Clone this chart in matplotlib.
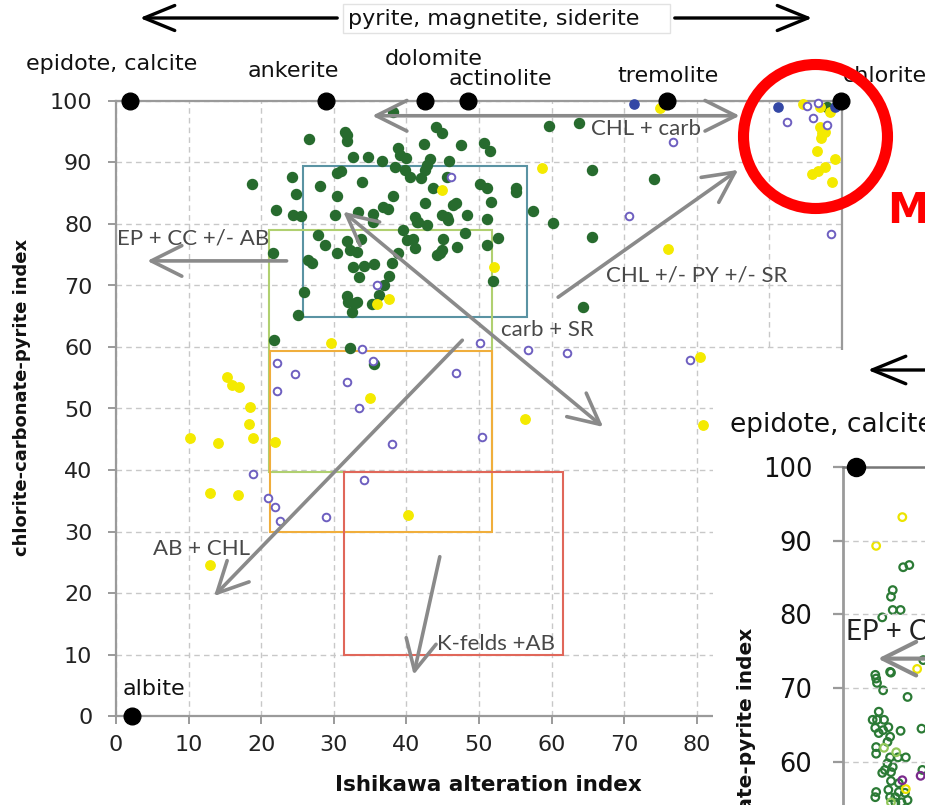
import matplotlib.pyplot as plt
from matplotlib.patches import Rectangle, Ellipse, FancyArrowPatch

W, H = 925, 805

# ---- data ----
green_x = [38.2, 26.6, 31.5, 31.8, 31.8, 32.6, 34.7, 36.6, 38.8, 39.1, 39.9, 38.4, 39.8, 18.7, 24.2, 28.1,
           30.4, 31.0, 33.9, 24.8, 30.4, 38.2, 22.0, 24.4, 25.5, 30.2, 33.3, 35.4, 35.4, 36.8, 37.5,
           44.1, 44.9, 59.6, 42.4, 47.5, 50.7, 51.5, 43.3, 42.8, 42.6, 45.9, 40.5, 42.0, 45.6, 43.7,
           50.1, 51.1, 55.1, 55.1, 42.6, 46.4, 46.8, 51.7, 41.2, 41.6, 44.9, 45.6, 48.3, 51.1, 57.4, 60.2,
           21.6, 27.8, 28.8, 30.4, 31.8, 32.2, 33.2, 33.7, 39.5, 40.1, 38.8, 26.4, 27.0, 32.6, 34.2, 35.5,
           33.5, 38.0, 37.6, 36.9, 25.9, 31.8, 32.0, 32.9, 33.2, 32.5, 36.2, 35.3, 25.1, 21.8, 32.2,
           40.9, 41.2, 41.5, 42.8, 45.7, 48.1, 45.0, 44.9, 47.0, 44.2, 44.6, 51.1, 52.6, 51.9,
           64.3, 63.8, 65.6, 74.1, 65.6, 35.5, 97.9]
green_y = [98.2, 93.8, 95.0, 94.5, 93.5, 90.9, 90.9, 90.2, 92.4, 91.2, 90.7, 89.3, 88.8, 86.5, 87.6, 86.2,
           88.3, 88.6, 86.8, 84.9, 84.6, 84.6, 82.3, 81.5, 81.3, 81.5, 82.0, 81.6, 80.3, 82.8, 82.4,
           95.8, 94.8, 95.9, 93.0, 92.8, 93.2, 91.9, 90.6, 89.6, 88.8, 90.2, 87.6, 87.5, 87.6, 85.9,
           86.5, 85.9, 85.9, 85.2, 83.4, 83.1, 83.4, 83.6, 81.1, 80.3, 81.5, 81.1, 81.5, 80.8, 82.1, 80.2,
           75.3, 78.2, 76.6, 75.3, 77.2, 75.8, 75.4, 77.6, 79.0, 77.4, 75.3, 74.1, 73.7, 73.0, 73.2, 73.5,
           71.4, 73.7, 71.5, 70.1, 69.0, 68.3, 67.3, 67.2, 67.3, 65.7, 68.5, 67.0, 65.2, 61.1, 59.8,
           77.6, 76.1, 80.3, 79.8, 80.6, 78.5, 77.6, 75.8, 76.3, 75.0, 75.3, 76.6, 77.7, 70.7,
           66.5, 96.4, 88.8, 87.3, 77.9, 57.2, 99.0]

yellow_x = [44.9, 58.7, 36.0, 37.6, 29.6, 52.1, 56.3, 80.9, 80.4, 15.3, 16.0, 17.0, 18.5, 18.3, 18.9,
            10.2, 14.1, 21.9, 35.0, 12.9, 16.8, 40.2, 12.9, 76.0, 74.9, 94.6, 97.0, 98.3, 97.0, 97.2,
            97.7, 97.1, 96.6, 99.0, 97.7, 96.7, 95.9, 98.6]
yellow_y = [85.5, 89.1, 67.0, 67.8, 60.7, 73.0, 48.3, 47.3, 58.4, 55.1, 53.8, 53.5, 50.2, 47.5, 45.2,
            45.2, 44.4, 44.6, 51.7, 36.3, 35.9, 32.7, 24.6, 75.9, 98.9, 99.5, 99.0, 98.2, 95.8, 94.8,
            95.0, 94.0, 91.9, 90.6, 89.3, 88.6, 88.1, 86.8]

purple_x = [46.1, 36.0, 33.9, 50.1, 56.7, 62.1, 79.1, 50.4, 22.2, 24.7, 35.4, 31.8, 22.2, 33.5, 46.8,
            38.0, 18.9, 20.9, 21.9, 22.6, 28.9, 34.2, 76.7, 70.7, 92.4, 96.0, 97.9, 96.7, 95.2, 98.5]
purple_y = [87.6, 70.1, 59.7, 60.7, 59.5, 59.0, 57.9, 45.4, 57.4, 55.6, 57.7, 54.3, 52.8, 50.1, 55.8,
            44.2, 39.3, 35.4, 34.0, 31.7, 32.3, 38.4, 93.3, 81.3, 96.6, 97.2, 96.1, 99.7, 99.2, 78.4]

blue_x = [71.3, 91.2, 99.0]
blue_y = [99.5, 99.0, 99.0]

minerals = ["epidote, calcite", "ankerite", "dolomite", "actinolite", "tremolite", "chlorite", "albite"]
mineral_x = [1.9, 28.9, 42.6, 48.5, 75.9, 99.9, 2.2]
mineral_y = [100, 100, 100, 100, 100, 100, 0]

# boxes: (x0, x1, y0, y1, colour)
boxes = [(25.8, 56.6, 64.8, 89.4, "#5a93a3"),
         (21.1, 51.8, 39.7, 79.0, "#b0d070"),
         (21.2, 51.8, 29.9, 59.3, "#f0ae3c"),
         (31.4, 61.6, 9.9, 39.6, "#e0675a")]

# inset (second chart, partly visible)
in_green_x = [6.9, 7.6, 5.7, 5.5, 5.7, 6.6, 4.5, 9.2, 3.7, 3.9, 3.8, 5.4, 5.5, 4.6, 7.4, 4.1, 3.4, 3.9,
              4.7, 5.2, 3.7, 4.1, 4.6, 5.4, 5.1, 3.8, 3.8, 6.6, 6.3, 7.2, 5.4, 5.1, 4.8, 4.5, 5.7, 5.5,
              9.1, 3.8, 3.7, 5.2, 5.4, 6.0, 6.4, 7.1, 6.0, 6.7, 7.4, 5.5, 6.4, 9.0]
in_green_y = [86.4, 86.7, 83.3, 82.4, 80.6, 80.6, 79.6, 73.8, 71.8, 70.7, 71.3, 72.2, 72.1, 69.7, 68.8,
              66.8, 65.7, 65.7, 65.7, 64.7, 64.6, 63.9, 64.3, 63.4, 62.7, 62.0, 61.1, 64.2, 60.6, 60.6,
              60.6, 59.8, 58.9, 58.5, 59.3, 58.6, 58.9, 55.9, 55.2, 56.2, 55.2, 55.2, 55.9, 55.8, 54.5,
              54.5, 54.8, 57.4, 57.1, 64.5]
in_lgreen_x = [4.7, 6.1, 5.5]
in_lgreen_y = [61.9, 61.3, 54.5]
in_yellow_x = [6.8, 3.8, 8.5, 7.2]
in_yellow_y = [93.2, 89.3, 72.6, 56.3]
in_purple_x = [6.8, 8.9]
in_purple_y = [57.5, 58.1]


def fx(px):
    return px / W


def fy(py):
    return 1 - py / H


plt.rcParams['font.family'] = 'DejaVu Sans'
fig = plt.figure(figsize=(W / 100, H / 100), dpi=100)

GRID = dict(color="#c8c8c8", linestyle=(0, (4, 3)), linewidth=1)
ARROW = "#8a8a8a"
ANNOT_FONT = "Lato"
ANNOT_COL = "#484848"

# ---- main chart ----
ax = fig.add_axes([fx(116), fy(716), fx(842) - fx(116), fy(101) - fy(716)])
ax.set_zorder(1)
ax.set_xlim(0, 100)
ax.set_ylim(0, 100)
ax.set_xticks(range(0, 101, 10))
ax.set_yticks(range(0, 101, 10))
ax.grid(True, **GRID)
ax.set_axisbelow(True)
for s in ax.spines.values():
    s.set_color("#9a9a9a")
    s.set_linewidth(1.6)
ax.tick_params(axis="both", colors="#9a9a9a", labelcolor="#222222", labelsize=16,
               length=6, width=1.4, direction="out")
ax.tick_params(axis="x", pad=8)
ax.tick_params(axis="y", pad=11)

for x0, x1, y0, y1, c in boxes:
    ax.add_patch(Rectangle((x0, y0), x1 - x0, y1 - y0, fill=False, edgecolor=c, lw=1.5, zorder=2))

ax.scatter(green_x, green_y, s=52, color="#276b2e", zorder=4, clip_on=False)
ax.scatter(yellow_x, yellow_y, s=46, color="#f4ea00", zorder=4, clip_on=False)
ax.scatter(purple_x, purple_y, s=30, facecolor="white", edgecolor="#6e5fc0", lw=1.4, zorder=4, clip_on=False)
ax.scatter(blue_x, blue_y, s=44, color="#3347a5", zorder=4, clip_on=False)
ax.plot(mineral_x, mineral_y, "o", color="black", ms=12, zorder=6, clip_on=False)

# mineral labels
label_pos = {"epidote, calcite": (-0.55, 105.0, "center"),
             "ankerite": (24.4, 103.9, "center"),
             "dolomite": (43.8, 105.9, "center"),
             "actinolite": (53.0, 102.6, "center"),
             "tremolite": (76.0, 103.1, "center"),
             "chlorite": (100.1, 103.1, "left"),
             "albite": (5.2, 3.4, "center")}
for name in minerals:
    lx, ly, ha = label_pos[name]
    ax.text(lx, ly, name, fontsize=16, ha=ha, va="baseline", color="#111111", clip_on=False, zorder=7)


def arrow(a, b, style="->"):
    ax.annotate("", xy=b, xytext=a,
                arrowprops=dict(arrowstyle=style + ",head_length=1.1,head_width=0.55", lw=2.6,
                                color=ARROW, mutation_scale=20, shrinkA=0, shrinkB=0),
                zorder=5, annotation_clip=False)


arrow((35.3, 97.6), (85.9, 97.6), "<->")
arrow((23.5, 74.0), (4.3, 74.0))
arrow((31.3, 82.0), (67.1, 47.0), "<->")
arrow((47.7, 61.1), (13.5, 19.5))
arrow((60.9, 68.1), (85.7, 88.8))
arrow((44.6, 25.9), (41.0, 6.7))

notes = [("CHL + carb", 73.0, 94.5), ("EP + CC +/- AB", 10.6, 76.6), ("CHL +/- PY +/- SR", 80.0, 70.6),
         ("carb + SR", 59.4, 61.8), ("AB + CHL", 11.8, 26.2), ("K-felds +AB", 52.3, 10.7)]
for t, tx, ty in notes:
    ax.text(tx, ty, t, fontsize=16, family=ANNOT_FONT, color=ANNOT_COL, ha="center", va="baseline", zorder=6)

fig.text(fx(488), fy(785), "Ishikawa alteration index", fontsize=15.5, weight="bold",
         ha="center", va="center", color="#111111")
fig.text(fx(22), fy(397), "chlorite-carbonate-pyrite index", fontsize=13, weight="bold",
         rotation=90, ha="center", va="center", color="#111111")

# top arrows and boxed title
fig.add_artist(Rectangle((fx(343), fy(33)), fx(670) - fx(343), fy(4) - fy(33), transform=fig.transFigure,
                         facecolor="white", edgecolor="#e2e2e2", lw=1))
fig.text(fx(494), fy(19), "pyrite, magnetite, siderite", fontsize=16, ha="center", va="center", color="#111111")
for a, b in [((340, 18), (137, 18)), ((672, 18), (815, 18))]:
    fig.add_artist(FancyArrowPatch((fx(a[0]), fy(a[1])), (fx(b[0]), fy(b[1])), transform=fig.transFigure,
                                   arrowstyle="->,head_length=1.1,head_width=0.45", mutation_scale=20,
                                   lw=2.4, color="black"))

# ---- covering panel for the second chart ----
fig.add_artist(Rectangle((fx(713), 0), 1 - fx(713), fy(350), transform=fig.transFigure,
                         facecolor="white", edgecolor="none", zorder=2))

ax2 = fig.add_axes([fx(843), 0, 1 - fx(843), fy(467)])
ax2.set_zorder(3)
ax2.patch.set_alpha(0)
ax2.set_xlim(0, 9.4)
ax2.set_ylim(54.14, 100)
ax2.set_yticks([60, 70, 80, 90, 100])
ax2.set_xticks([])
ax2.grid(True, axis="y", **GRID)
for k in ["right", "bottom"]:
    ax2.spines[k].set_visible(False)
ax2.spines["left"].set_color("#9a9a9a")
ax2.spines["left"].set_linewidth(2)
ax2.spines["top"].set_color("#777777")
ax2.spines["top"].set_linewidth(1.8)
ax2.tick_params(axis="y", colors="#9a9a9a", labelcolor="#111111", labelsize=18.5, length=7, width=1.6, pad=15)
ax2.scatter(in_green_x, in_green_y, s=30, facecolor="none", edgecolor="#2b7a35", lw=1.6, clip_on=False)
ax2.scatter(in_lgreen_x, in_lgreen_y, s=30, facecolor="none", edgecolor="#93c85a", lw=1.6, clip_on=False)
ax2.scatter(in_yellow_x, in_yellow_y, s=30, facecolor="none", edgecolor="#ece400", lw=1.6, clip_on=False)
ax2.scatter(in_purple_x, in_purple_y, s=30, facecolor="none", edgecolor="#7a2a8c", lw=1.6, clip_on=False)
ax2.plot([1.5], [100], "o", color="black", ms=13, clip_on=False, zorder=5)
ax2.annotate("", xy=(4.0, 74.0), xytext=(10.5, 74.0),
             arrowprops=dict(arrowstyle="->,head_length=1.1,head_width=0.55", lw=3, color=ARROW,
                             mutation_scale=22, shrinkA=0, shrinkB=0), annotation_clip=False)
ax2.text(0.3, 76.5, "EP + CC +/- AB", fontsize=20, family=ANNOT_FONT, color="#222222", va="baseline",
         clip_on=False)

fig.text(fx(730), fy(432), "epidote, calcite", fontsize=19, ha="left", va="baseline", color="#111111", zorder=4)
fig.text(fx(747), fy(628), "chlorite-carbonate-pyrite index", fontsize=14.5, weight="bold", rotation=90,
         ha="center", va="top", color="#111111", zorder=4)
fig.add_artist(FancyArrowPatch((fx(960), fy(370)), (fx(865), fy(370)), transform=fig.transFigure,
                               arrowstyle="->,head_length=1.1,head_width=0.45", mutation_scale=22,
                               lw=2.4, color="black", zorder=4))

# ---- red highlight ----
fig.add_artist(Ellipse((fx(815.5), fy(136.5)), 2 * 72 / W, 2 * 72 / H, transform=fig.transFigure,
                       fill=False, edgecolor="#ff0000", lw=8, zorder=5))
fig.text(fx(887), fy(223), "M", fontsize=30, weight="bold", color="#ff0000", ha="left", va="baseline", zorder=5)

fig.savefig("out.png", dpi=100)
